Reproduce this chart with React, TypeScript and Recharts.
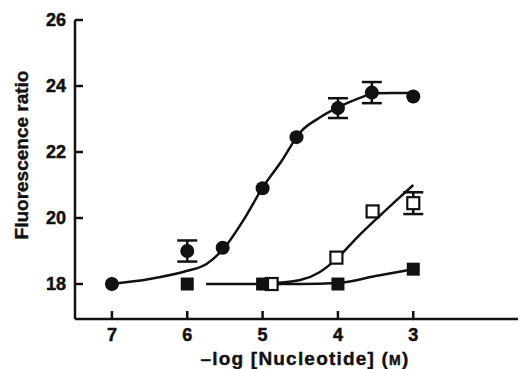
import React from 'react';
import {
  ComposedChart,
  Line,
  Scatter,
  ErrorBar,
  XAxis,
  YAxis,
} from 'recharts';

// x values are -log[nucleotide] (M), axis runs high to low
const xTicks = [7, 6, 5, 4, 3];
const yTicks = [18, 20, 22, 24, 26];

// filled circles
const circleX = [7, 6, 5.53, 5, 4.55, 4, 3.55, 3];
const circleY = [18.0, 19.0, 19.1, 20.9, 22.45, 23.33, 23.8, 23.68];
const circleErr = [0, 0.32, 0, 0, 0, 0.3, 0.32, 0];

// open squares
const openX = [4.88, 4.02, 3.54, 3.0];
const openY = [18.0, 18.8, 20.2, 20.45];
const openErr = [0, 0, 0, 0.33];

// filled squares
const solidX = [6, 5, 4, 3];
const solidY = [18.0, 18.0, 18.0, 18.45];

// fitted curves
const circleFitX = [7, 6.5, 6, 5.75, 5.5, 5.25, 5, 4.75, 4.5, 4.25, 4, 3.75, 3.5, 3.25, 3];
const circleFitY = [18.0, 18.15, 18.4, 18.6, 19.12, 19.95, 20.92, 21.72, 22.6, 23.03, 23.35, 23.6, 23.78, 23.79, 23.79];

const openFitX = [5, 4.5, 4.25, 4, 3.75, 3.5, 3.25, 3];
const openFitY = [18.0, 18.12, 18.35, 18.8, 19.4, 19.95, 20.48, 21.0];

const solidFitX = [5.75, 5, 4.5, 4, 3.5, 3];
const solidFitY = [18.0, 18.0, 18.0, 18.03, 18.24, 18.45];

const zip = (xs: number[], ys: number[], errs?: number[]) =>
  xs.map((x, i) => ({ x, y: ys[i], err: errs ? errs[i] : 0 }));

const circles = zip(circleX, circleY, circleErr);
const openSquares = zip(openX, openY, openErr);
const solidSquares = zip(solidX, solidY);
const circleFit = zip(circleFitX, circleFitY);
const openFit = zip(openFitX, openFitY);
const solidFit = zip(solidFitX, solidFitY);

const FONT = '"Liberation Sans", Arial, sans-serif';
const INK = '#111';

const YTick = (props: any) => {
  const { x, y, payload } = props;
  const axisX = x + 9;
  return (
    <g>
      <line x1={axisX} y1={y} x2={axisX + 8} y2={y} stroke={INK} strokeWidth={2.5} />
      <text x={x} y={y} dy="0.36em" textAnchor="end" fontFamily={FONT} fontWeight="bold" fontSize={18} fill={INK} stroke={INK} strokeWidth={0.5}>
        {payload.value}
      </text>
    </g>
  );
};

const XTick = (props: any) => {
  const { x, y, payload } = props;
  const axisY = y - 22;
  return (
    <g>
      <line x1={x} y1={axisY} x2={x} y2={axisY - 8} stroke={INK} strokeWidth={2.5} />
      <text x={x} y={y} textAnchor="middle" fontFamily={FONT} fontWeight="bold" fontSize={18} fill={INK} stroke={INK} strokeWidth={0.5}>
        {payload.value}
      </text>
    </g>
  );
};

const Dot = (props: any) => <circle cx={props.cx} cy={props.cy} r={7} fill={INK} />;
const OpenSquare = (props: any) => (
  <rect x={props.cx - 6} y={props.cy - 6} width={12} height={12} fill="#fff" stroke={INK} strokeWidth={2.2} />
);
const SolidSquare = (props: any) => (
  <rect x={props.cx - 6.5} y={props.cy - 6.5} width={13} height={13} fill={INK} />
);

export default function App() {
  return (
    <div style={{ position: 'fixed', left: 0, top: 0, width: 520, height: 369, background: '#fff' }}>
      <ComposedChart width={520} height={369} margin={{ top: 20, right: 2, bottom: 0, left: 0 }}>
        <XAxis
          type="number"
          dataKey="x"
          domain={[1.61, 7.49]}
          reversed
          allowDataOverflow
          ticks={xTicks}
          tick={<XTick />}
          tickLine={false}
          tickSize={0}
          tickMargin={22}
          height={50}
          axisLine={{ stroke: INK, strokeWidth: 2.5 }}
        />
        <YAxis
          type="number"
          domain={[16.94, 26]}
          allowDataOverflow
          ticks={yTicks}
          tick={<YTick />}
          tickLine={false}
          tickSize={0}
          tickMargin={9}
          width={75}
          axisLine={{ stroke: INK, strokeWidth: 2.5 }}
        />
        <Line data={circleFit} dataKey="y" type="monotone" stroke={INK} strokeWidth={2.5} dot={false} isAnimationActive={false} />
        <Line data={openFit} dataKey="y" type="monotone" stroke={INK} strokeWidth={2.5} dot={false} isAnimationActive={false} />
        <Line data={solidFit} dataKey="y" type="monotone" stroke={INK} strokeWidth={2.5} dot={false} isAnimationActive={false} />
        <Scatter data={circles} dataKey="y" shape={<Dot />} isAnimationActive={false}>
          <ErrorBar dataKey="err" direction="y" width={10} stroke={INK} strokeWidth={2.5} />
        </Scatter>
        <Scatter data={openSquares} dataKey="y" shape={<OpenSquare />} isAnimationActive={false}>
          <ErrorBar dataKey="err" direction="y" width={10} stroke={INK} strokeWidth={2.5} />
        </Scatter>
        <Scatter data={solidSquares} dataKey="y" shape={<SolidSquare />} isAnimationActive={false} />
        <text x={305} y={365} textAnchor="middle" fontFamily={FONT} fontWeight="bold" fontSize={19} letterSpacing={1.2} fill={INK} stroke={INK} strokeWidth={0.4}>
          –log [Nucleotide] (<tspan fontSize={14}>M</tspan>)
        </text>
        <text
          x={0}
          y={0}
          transform="translate(28,155) rotate(-90)"
          textAnchor="middle"
          fontFamily={FONT}
          fontWeight="bold"
          fontSize={19}
          fill={INK}
          stroke={INK}
          strokeWidth={0.4}
        >
          Fluorescence ratio
        </text>
      </ComposedChart>
    </div>
  );
}
